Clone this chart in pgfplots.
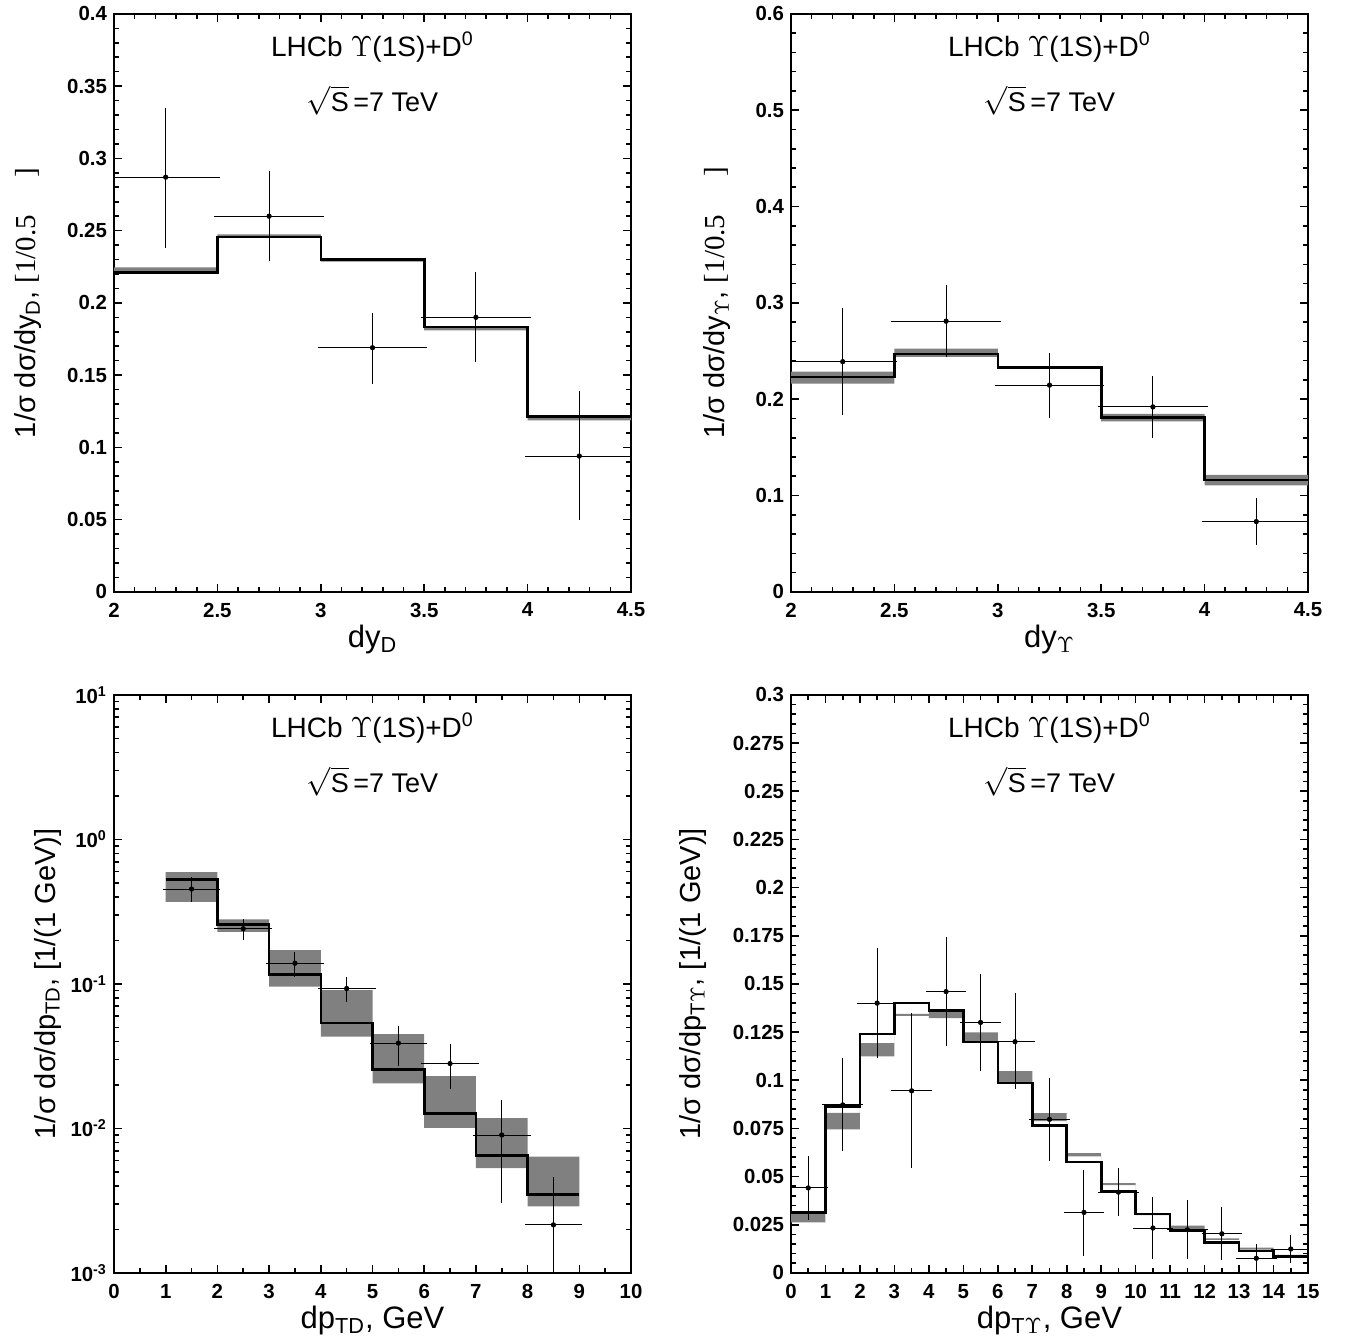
\documentclass[border=0pt]{standalone}
\usepackage{fontspec}
\setmainfont{Liberation Sans}
\newfontfamily\serif{Liberation Serif}
\usepackage{pgfplots}
\usepgfplotslibrary{fillbetween}
\pgfplotsset{compat=1.18}
\usepackage{pgfplotstable}

% theory band (lo, hi) and central histogram (th), left bin edges
\pgfplotstableread{
x   lo     hi     th
2.0 0.2205 0.2245 0.221
2.5 0.2450 0.2475 0.2457
3.0 0.2285 0.2305 0.230
3.5 0.1809 0.1836 0.1832
4.0 0.1187 0.1220 0.1215
4.5 0.1187 0.1220 0.1215
}\tlband
\pgfplotstableread{
x    y      ex   ep    em
2.25 0.287  0.25 0.046 0.047
2.75 0.260  0.25 0.029 0.029
3.25 0.169  0.25 0.022 0.023
3.75 0.190  0.25 0.029 0.029
4.25 0.094  0.25 0.043 0.042
}\tldata

\pgfplotstableread{
x   lo     hi     th
2.0 0.2163 0.2286 0.2229
2.5 0.2439 0.2526 0.2469
3.0 0.2315 0.2340 0.2329
3.5 0.1770 0.1849 0.1809
4.0 0.1106 0.1215 0.1162
4.5 0.1106 0.1215 0.1162
}\trband
\pgfplotstableread{
x    y      ex   ep    em
2.25 0.239  0.25 0.053 0.052
2.75 0.281  0.25 0.034 0.034
3.25 0.2146 0.25 0.030 0.031
3.75 0.192  0.25 0.029 0.029
4.25 0.073  0.25 0.021 0.021
}\trdata

\pgfplotstableread{
x lo      hi      th
1 0.369   0.594   0.529
2 0.2288  0.280   0.257
3 0.0959  0.171   0.1166
4 0.0432  0.0904  0.0535
5 0.0205  0.0449  0.02547
6 0.0101  0.0230  0.0127
7 0.0053  0.01178 0.0065
8 0.00289 0.00637 0.0035
9 0.00289 0.00637 0.0035
}\blband
\pgfplotstableread{
x   y       ex  ep      em
1.5 0.4535  0.5 0.0675  0.0685
2.5 0.241   0.5 0.029   0.0306
3.5 0.139   0.5 0.019   0.0212
4.5 0.0929  0.5 0.0131  0.0137
5.5 0.0389  0.5 0.0102  0.01045
6.5 0.0281  0.5 0.0084  0.0083
7.5 0.0090  0.5 0.0059  0.00582
8.5 0.00215 0.5 0.00223 0.00205
}\bldata

\pgfplotstableread{
x  lo     hi     th
0  0.0262 0.0310 0.0314
1  0.0745 0.0831 0.0864
2  0.1124 0.1193 0.124
3  0.1334 0.1345 0.140
4  0.1322 0.1366 0.1362
5  0.1202 0.1248 0.1198
6  0.0981 0.1047 0.0986
7  0.0788 0.0829 0.0766
8  0.0605 0.0622 0.0576
9  0.0455 0.0466 0.0422
10 0.0300 0.0310 0.0305
11 0.0228 0.0245 0.0219
12 0.0171 0.0179 0.0159
13 0.0121 0.0131 0.0114
14 0.0086 0.0093 0.0086
15 0.0086 0.0093 0.0086
}\brband
\pgfplotstableread{
x    y      ex  ep     em
0.5  0.0441 0.5 0.0152 0.0150
1.5  0.0872 0.5 0.0226 0.0225
2.5  0.140  0.5 0.0271 0.0269
3.5  0.0945 0.5 0.0386 0.0386
4.5  0.146  0.5 0.0268 0.0269
5.5  0.130  0.5 0.0234 0.0234
6.5  0.120  0.5 0.0236 0.0231
7.5  0.0797 0.5 0.0198 0.0199
8.5  0.0314 0.5 0.0207 0.0209
9.5  0.0419 0.5 0.0109 0.0109
10.5 0.0233 0.5 0.0146 0.0143
11.5 0.0224 0.5 0.0138 0.0138
12.5 0.0203 0.5 0.0123 0.0122
13.5 0.0076 0.5 0.0057 0.0060
14.5 0.0124 0.5 0.0057 0.0055
}\brdata

\definecolor{bandgray}{RGB}{128,128,128}

\pgfplotsset{
  panel/.style={
    width=258.5pt, height=289pt, scale only axis,
    axis line style={line width=0.9pt},
    every tick/.style={black, line width=0.8pt},
    tick align=inside,
    major tick length=4pt, minor tick length=2.5pt,
    xtick pos=both, ytick pos=both,
    xticklabel pos=lower, yticklabel pos=left,
    /pgf/number format/assume math mode=true,
    ticklabel style={font=\fontsize{10.2}{12}\selectfont\bfseries},
    xticklabel style={yshift=-2pt},
    yticklabel style={/pgf/number format/.cd, fixed, precision=3},
    xlabel style={font=\fontsize{15.5}{17}\selectfont, yshift=3pt},
    ylabel style={font=\fontsize{14.5}{16}\selectfont, anchor=center},
  },
  theory/.style={const plot, black, line width=1.3pt},
  meas/.style={only marks, black, mark=*, mark size=1.1pt,
    error bars/.cd, x dir=both, x explicit, y dir=both, y explicit,
    error bar style={line width=0.5pt, black},
    error mark=|, error mark options={rotate=90, mark size=1.5pt, line width=0.5pt, black}},
}

\newcommand{\paneltitle}{%
  \node[font=\fontsize{14}{16}\selectfont] at (rel axis cs:0.5,0.943) {LHCb $\Upsilon$(1S)+D\textsuperscript{0}};
  \node[font=\fontsize{13.5}{15}\selectfont] at (rel axis cs:0.5,0.85) {$\sqrt{\mbox{S}}$\,=7 TeV};
}

\begin{document}
\begin{tikzpicture}

% top left
\begin{axis}[panel, at={(57pt,-295pt)}, anchor=south west,
  xmin=2, xmax=4.5, ymin=0, ymax=0.4,
  xtick={2,2.5,...,4.5}, ytick={0,0.05,...,0.4},
  minor x tick num=4, minor y tick num=4,
  xlabel={dy\textsubscript{D}},
  ylabel style={at={(axis description cs:-0.166,0.5)}},
  ylabel={1/σ dσ/dy\textsubscript{D}, {\serif [1/0.5\hspace{1.3em}]}}]
\addplot[name path=tlu, draw=none, const plot] table[x=x, y=hi]{\tlband};
\addplot[name path=tll, draw=none, const plot] table[x=x, y=lo]{\tlband};
\addplot[bandgray] fill between[of=tlu and tll];
\addplot[theory] table[x=x, y=th]{\tlband};
\addplot[meas] table[x=x, y=y, x error=ex, y error plus=ep, y error minus=em]{\tldata};
\paneltitle
\end{axis}

% top right
\begin{axis}[panel, at={(395.5pt,-295pt)}, anchor=south west,
  xmin=2, xmax=4.5, ymin=0, ymax=0.6,
  xtick={2,2.5,...,4.5}, ytick={0,0.1,...,0.6},
  minor x tick num=4, minor y tick num=4,
  xlabel={dy\textsubscript{$\Upsilon$}},
  ylabel style={at={(axis description cs:-0.143,0.5)}},
  ylabel={1/σ dσ/dy\textsubscript{$\Upsilon$}, {\serif [1/0.5\hspace{1.3em}]}}]
\addplot[name path=tru, draw=none, const plot] table[x=x, y=hi]{\trband};
\addplot[name path=trl, draw=none, const plot] table[x=x, y=lo]{\trband};
\addplot[bandgray] fill between[of=tru and trl];
\addplot[theory] table[x=x, y=th]{\trband};
\addplot[meas] table[x=x, y=y, x error=ex, y error plus=ep, y error minus=em]{\trdata};
\paneltitle
\end{axis}

% bottom left
\begin{axis}[panel, ymode=log, at={(57pt,-635.5pt)}, anchor=south west,
  xmin=0, xmax=10, ymin=1e-3, ymax=10,
  xtick={0,...,10}, minor x tick num=1,
  ytick={1e-3,1e-2,1e-1,1,10},
  yticklabels={10\textsuperscript{-3},10\textsuperscript{-2},10\textsuperscript{-1},10\textsuperscript{0},10\textsuperscript{1}},
  xlabel={dp\textsubscript{TD}, GeV},
  ylabel style={at={(axis description cs:-0.128,0.5)}},
  ylabel={1/σ dσ/dp\textsubscript{TD}, [1/(1 GeV)]}]
\addplot[name path=blu, draw=none, const plot] table[x=x, y=hi]{\blband};
\addplot[name path=bll, draw=none, const plot] table[x=x, y=lo]{\blband};
\addplot[bandgray] fill between[of=blu and bll];
\addplot[theory] table[x=x, y=th]{\blband};
\addplot[meas] table[x=x, y=y, x error=ex, y error plus=ep, y error minus=em]{\bldata};
\paneltitle
\end{axis}

% bottom right
\begin{axis}[panel, at={(395.5pt,-635.5pt)}, anchor=south west,
  xmin=0, xmax=15, ymin=0, ymax=0.3,
  xtick={0,...,15}, minor x tick num=1,
  ytick={0,0.025,...,0.3}, minor y tick num=4,
  xlabel={dp\textsubscript{T$\Upsilon$}, GeV},
  ylabel style={at={(axis description cs:-0.19,0.5)}},
  ylabel={1/σ dσ/dp\textsubscript{T$\Upsilon$}, [1/(1 GeV)]}]
\addplot[name path=bru, draw=none, const plot] table[x=x, y=hi]{\brband};
\addplot[name path=brl, draw=none, const plot] table[x=x, y=lo]{\brband};
\addplot[bandgray] fill between[of=bru and brl];
\addplot[theory] table[x=x, y=th]{\brband};
\addplot[meas] table[x=x, y=y, x error=ex, y error plus=ep, y error minus=em]{\brdata};
\paneltitle
\end{axis}

\path (0,0) rectangle (677pt,-669pt);
\end{tikzpicture}
\end{document}
